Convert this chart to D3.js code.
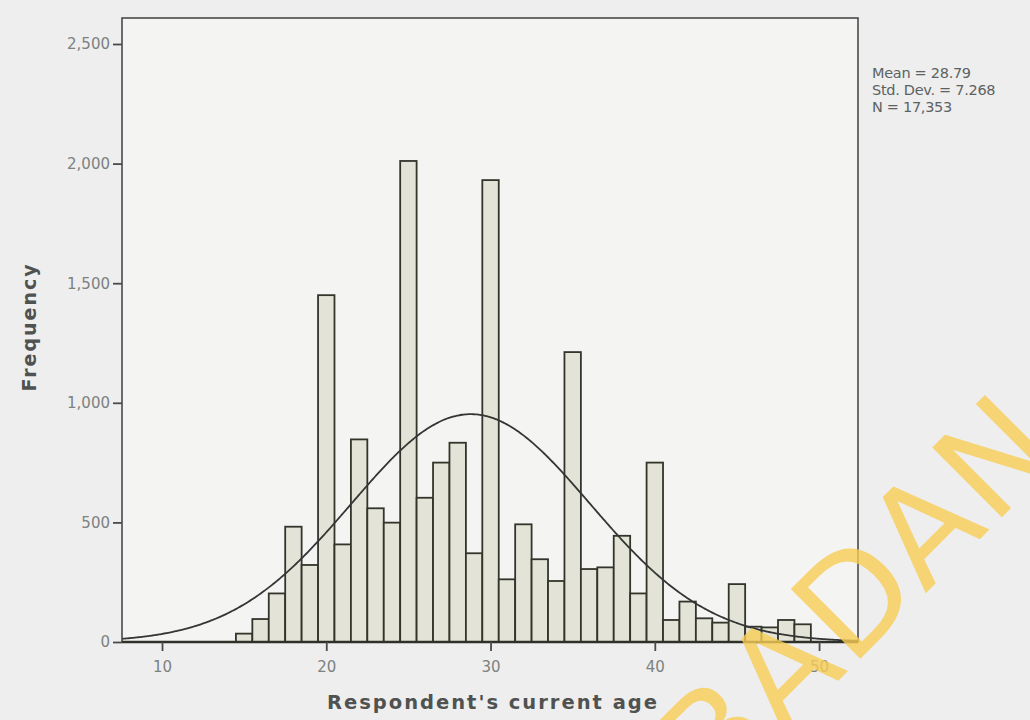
<!DOCTYPE html>
<html>
<head>
<meta charset="utf-8">
<script src="https://cdn.jsdelivr.net/npm/d3@7"></script>
<style>
  html, body { margin: 0; padding: 0; background: #eeeeee; }
  svg { display: block; }
</style>
</head>
<body>
<svg id="chart" width="1030" height="720"></svg>
<script>
// Respondent's current age histogram (one-year bins, centred on whole ages)
const ages = [15, 16, 17, 18, 19, 20, 21, 22, 23, 24, 25, 26, 27, 28, 29, 30, 31, 32,
              33, 34, 35, 36, 37, 38, 39, 40, 41, 42, 43, 44, 45, 46, 47, 48, 49];
const counts = [35, 96, 203, 482, 322, 1450, 408, 847, 559, 499, 2011, 603, 750, 833, 371, 1931, 262, 492,
                346, 255, 1212, 305, 312, 444, 203, 750, 92, 169, 99, 81, 242, 64, 61, 92, 74];
const xTicks = [10, 20, 30, 40, 50];
const yTicks = [0, 500, 1000, 1500, 2000, 2500];
const statMean = 28.79;
const statSd = 7.268;
const statN = 17353;
const statLines = ["Mean = 28.79", "Std. Dev. = 7.268", "N = 17,353"];

const W = 1030, H = 720;
const m = { top: 18, right: 172, bottom: 78, left: 122 };

const svg = d3.select("#chart");

const x = d3.scaleLinear().domain([7.565, 52.37]).range([m.left, W - m.right]);
const y = d3.scaleLinear().domain([0, 2500]).range([H - m.bottom, 44]);
const fmt = d3.format(",");

// plot area
svg.append("rect")
  .attr("x", m.left).attr("y", m.top)
  .attr("width", x.range()[1] - m.left).attr("height", y(0) - m.top)
  .attr("fill", "#f4f4f3");

// bars
svg.append("g").selectAll("rect").data(ages).join("rect")
  .attr("x", (d) => x(d - 0.5))
  .attr("width", x(1) - x(0))
  .attr("y", (d, i) => y(counts[i]))
  .attr("height", (d, i) => y(0) - y(counts[i]))
  .attr("fill", "#e3e4d7")
  .attr("stroke", "#33352b").attr("stroke-width", 1.8);

// normal curve from the stated mean / sd / N
const pdf = (v) => statN * Math.exp(-0.5 * ((v - statMean) / statSd) ** 2) / (statSd * Math.sqrt(2 * Math.PI));
const curveX = d3.range(x.domain()[0], x.domain()[1] + 0.01, 0.1);
svg.append("path")
  .datum(curveX)
  .attr("fill", "none")
  .attr("stroke", "#353535").attr("stroke-width", 1.8)
  .attr("d", d3.line().x((d) => x(d)).y((d) => y(pdf(d))).curve(d3.curveBasis));

// frame
svg.append("rect")
  .attr("x", m.left).attr("y", m.top)
  .attr("width", x.range()[1] - m.left).attr("height", y(0) - m.top)
  .attr("fill", "none").attr("stroke", "#4a4a4a").attr("stroke-width", 1.6);
svg.append("line")
  .attr("x1", m.left).attr("x2", x.range()[1])
  .attr("y1", y(0)).attr("y2", y(0))
  .attr("stroke", "#2f3128").attr("stroke-width", 2.6);

// axes
svg.append("g")
  .attr("transform", `translate(${m.left},0)`)
  .call(d3.axisLeft(y).tickValues(yTicks).tickFormat(fmt).tickSize(9).tickPadding(3))
  .call((ax) => {
    ax.select(".domain").remove();
    ax.selectAll(".tick line").attr("stroke", "#4a4a4a").attr("stroke-width", 1.8);
    ax.selectAll(".tick text").style("fill", "#7c8280").style("font-size", "15px")
      .style("font-family", "'DejaVu Sans', sans-serif");
  });

svg.append("g")
  .attr("transform", `translate(0,${y(0)})`)
  .call(d3.axisBottom(x).tickValues(xTicks).tickSize(9).tickPadding(10))
  .call((ax) => {
    ax.select(".domain").remove();
    ax.selectAll(".tick line").attr("stroke", "#4a4a4a").attr("stroke-width", 1.8);
    ax.selectAll(".tick text").style("fill", "#7c8280").style("font-size", "15px")
      .style("font-family", "'DejaVu Sans', sans-serif");
  });

// axis titles
svg.append("text")
  .attr("transform", "translate(36,327) rotate(-90)")
  .attr("text-anchor", "middle")
  .style("fill", "#4f5250").style("font-size", "19px").style("font-weight", "bold")
  .style("letter-spacing", "2px").style("font-family", "'DejaVu Sans', sans-serif")
  .text("Frequency");

svg.append("text")
  .attr("x", 493).attr("y", 709)
  .attr("text-anchor", "middle")
  .style("fill", "#4f5250").style("font-size", "19.5px").style("font-weight", "bold")
  .style("letter-spacing", "2px").style("font-family", "'DejaVu Sans', sans-serif")
  .text("Respondent's current age");

// stats box text
svg.append("g").selectAll("text").data(statLines).join("text")
  .attr("x", 872)
  .attr("y", (d, i) => 78 + i * 17)
  .style("fill", "#5c6262").style("font-size", "14.5px").style("letter-spacing", "-0.3px")
  .style("font-family", "'DejaVu Sans', sans-serif")
  .text((d) => d);

// watermark on the photographed page
svg.append("text")
  .attr("transform", "translate(716,803) rotate(-45)")
  .style("fill", "#f7cd55").style("fill-opacity", 0.8)
  .style("font-size", "135px").style("letter-spacing", "3px")
  .style("font-family", "'DejaVu Sans', sans-serif")
  .text("BADAN");
</script>
</body>
</html>
